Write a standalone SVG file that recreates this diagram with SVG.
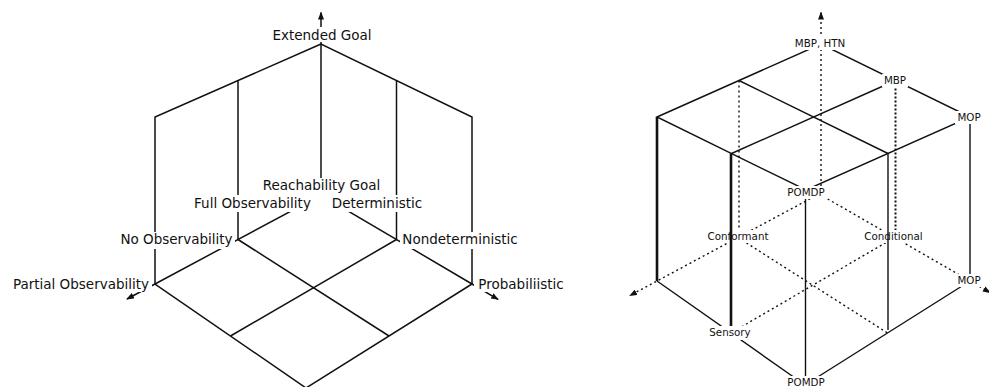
<svg xmlns="http://www.w3.org/2000/svg" width="989" height="387" viewBox="0 0 989 387">
<defs>
<style>
.ln{fill:none;stroke:#111;stroke-width:1.5;stroke-linejoin:miter}
.thin{fill:none;stroke:#111;stroke-width:1.4}
.thick{fill:none;stroke:#111;stroke-width:2.6}
.dot{fill:none;stroke:#111;stroke-width:1.4;stroke-dasharray:2 3}
.dot2{fill:none;stroke:#111;stroke-width:2;stroke-dasharray:2 2}
.bg{fill:#fff}
.big{font-family:"DejaVu Sans","Liberation Sans",sans-serif;font-size:13.5px;text-anchor:middle;fill:#111}
.sm{font-family:"DejaVu Sans","Liberation Sans",sans-serif;font-size:10.3px;text-anchor:middle;fill:#111}
</style>
<marker id="ah" viewBox="0 0 8 6" refX="7" refY="3" markerWidth="8" markerHeight="6" markerUnits="userSpaceOnUse" orient="auto">
<path d="M0,0 L8,3 L0,6 z" fill="#111"/>
</marker>
</defs>
<rect width="989" height="387" fill="#fff"/>

<!-- LEFT FIGURE -->
<g id="left-connectors">
<path class="ln" d="M321,44 L155,117 L155,284 L306,388 L472,284 L472,117 Z"/>
<path class="ln" d="M321,44 V195"/>
<path class="ln" d="M155,284 L321,195 L472,284"/>
<path class="ln" d="M238,80.5 V239.5"/>
<path class="ln" d="M396.5,80.5 V239.5"/>
<path class="ln" d="M238,239.5 L389,336"/>
<path class="ln" d="M396.5,239.5 L230.5,336"/>
<path class="ln" d="M321,44 V12.5" marker-end="url(#ah)"/>
<path class="ln" d="M155,284 L127,299" marker-end="url(#ah)"/>
<path class="ln" d="M472,284 L498,299.3" marker-end="url(#ah)"/>
</g>
<g id="extended-goal"><rect class="bg" x="270" y="27" width="104" height="15"/><text class="big" x="322" y="39.5">Extended Goal</text></g>
<g id="reachability-goal"><rect class="bg" x="259" y="178" width="124" height="18"/><text class="big" x="321.5" y="190">Reachability Goal</text></g>
<g id="full-observability"><rect class="bg" x="190" y="195" width="131" height="17"/><text class="big" x="252.5" y="207.5">Full Observability</text></g>
<g id="deterministic"><rect class="bg" x="321" y="195" width="104" height="17"/><text class="big" x="377" y="207.5">Deterministic</text></g>
<g id="no-observability"><rect class="bg" x="117" y="232" width="118" height="17"/><text class="big" x="176.5" y="244">No Observability</text></g>
<g id="nondeterministic"><rect class="bg" x="400" y="232" width="120" height="17"/><text class="big" x="460" y="244">Nondeterministic</text></g>
<g id="partial-observability"><rect class="bg" x="9" y="277" width="143" height="15"/><text class="big" x="81" y="289">Partial Observability</text></g>
<g id="probabilistic"><rect class="bg" x="474" y="277" width="93" height="15"/><text class="big" x="521" y="289">Probabiliistic</text></g>

<!-- RIGHT FIGURE -->
<g id="right-connectors">
<path class="dot" d="M821,44 V194"/>
<path class="dot" d="M821,44 V12.5" marker-end="url(#ah)"/>
<path class="dot" d="M739,80.5 V237.5"/>
<path class="dot2" d="M895.5,80.5 V237.5"/>
<path class="dot" d="M819,194 L657,281 L630,295.5" marker-end="url(#ah)"/>
<path class="dot" d="M819,194 L970,281 L990,292.5" marker-end="url(#ah)"/>
<path class="dot" d="M738,237.5 L887.5,333"/>
<path class="dot" d="M894.5,237.5 L731,333"/>
<path class="thin" d="M657,117 L821,44 L970,117 L806,190 Z"/>
<path class="thin" d="M739,80.5 L888,153.5"/>
<path class="thin" d="M895.5,80.5 L731.5,153.5"/>
<path class="thin" d="M805.5,190 V385"/>
<path class="thin" d="M970,117 V281"/>
<path class="thin" d="M657,281 L805,385 L970,281"/>
<path class="thick" d="M657,117 V281"/>
</g>
<g id="mbp-htn"><rect class="bg" x="794" y="37" width="52" height="13"/><text class="sm" x="820" y="46.5">MBP, HTN</text></g>
<g id="mbp"><rect class="bg" x="882" y="74" width="26" height="13"/><text class="sm" x="895" y="83.5">MBP</text></g>
<g id="mop-top"><rect class="bg" x="955" y="111" width="28" height="13"/><text class="sm" x="969" y="120.5">MOP</text></g>
<g id="pomdp-top"><rect class="bg" x="785" y="186" width="42" height="13"/><text class="sm" x="806" y="195.5">POMDP</text></g>
<g id="conformant"><rect class="bg" x="706" y="230" width="64" height="13"/><text class="sm" x="738" y="239.5">Conformant</text></g>
<g id="conditional"><rect class="bg" x="863" y="230" width="61" height="13"/><text class="sm" x="893.5" y="239.5">Conditional</text></g>
<g id="mop-bottom"><rect class="bg" x="955" y="274" width="28" height="13"/><text class="sm" x="969" y="283.5">MOP</text></g>
<g id="sensory"><rect class="bg" x="706" y="326" width="48" height="14"/><text class="sm" x="730" y="336">Sensory</text></g>
<g id="pomdp-bottom"><rect class="bg" x="785" y="376" width="42" height="14"/><text class="sm" x="806" y="386">POMDP</text></g>
<g id="right-front-connectors">
<path class="thick" d="M731,153.5 V326"/>
<path class="thin" d="M888,153.5 V330"/>
</g>
</svg>
